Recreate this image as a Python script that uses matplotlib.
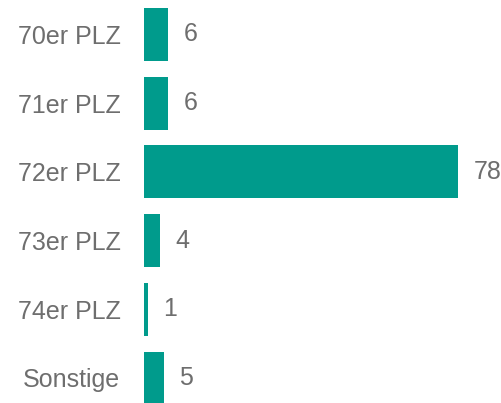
import matplotlib
matplotlib.use("Agg")
from matplotlib import pyplot as plt

kategorien = ["70er PLZ", "71er PLZ", "72er PLZ", "73er PLZ", "74er PLZ", "Sonstige"]
werte = [6, 6, 78, 4, 1, 5]

farbe = "#009B8C"
textfarbe = "#6E6E6E"

plt.rcParams['font.family'] = ['Liberation Sans', 'DejaVu Sans']

fig = plt.figure(figsize=(5.02, 4.03), dpi=100)
ax = fig.add_axes([144 / 502, 0, (458 - 144) / 502, 1])

pos = list(range(len(kategorien)))
ax.barh(pos, werte, height=0.77, color=farbe)
# unterster Balken wird am Rand abgeschnitten wie im Original
ax.set_ylim(5.364, -0.502)
ax.set_xlim(0, 78)

ax.set_yticks(pos)
ax.set_yticklabels(kategorien, fontsize=18, color=textfarbe)
ax.tick_params(axis="y", length=0, pad=17)
ax.set_xticks([])
for s in ax.spines.values():
    s.set_visible(False)

# Werte neben den Balken
for p, w in zip(pos, werte):
    ax.annotate(str(w), (w, p), xytext=(11, 0), textcoords="offset points",
                va="center", ha="left", fontsize=18, color=textfarbe,
                annotation_clip=False)

fig.savefig("out.png", dpi=100)
